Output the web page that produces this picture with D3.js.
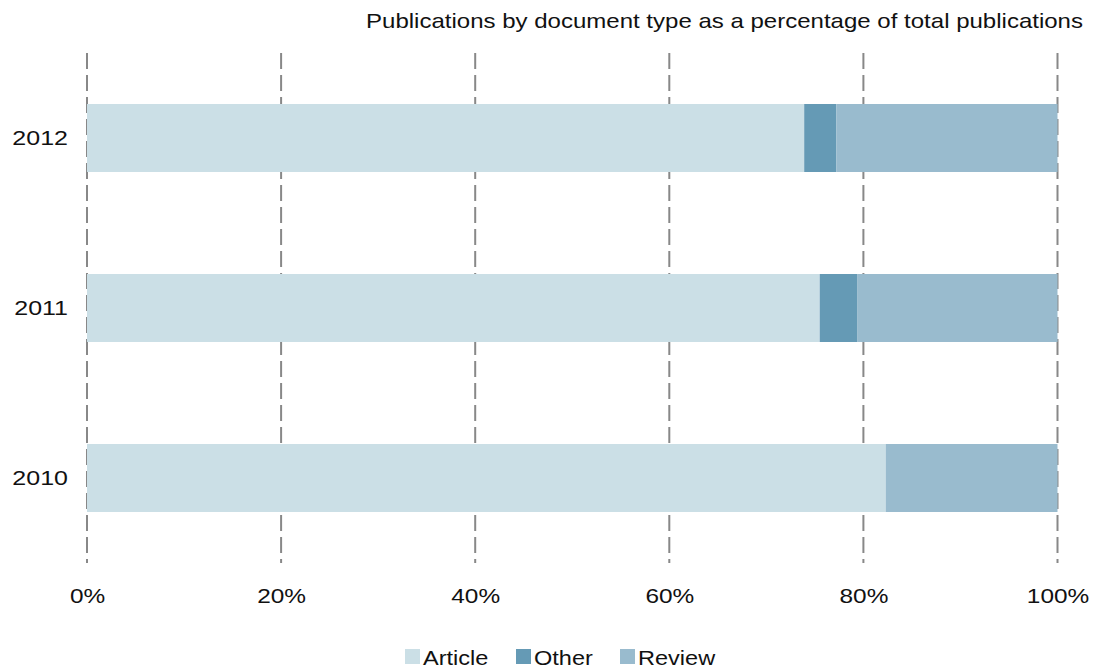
<!DOCTYPE html>
<html>
<head>
<meta charset="utf-8">
<script src="https://cdn.jsdelivr.net/npm/d3@7"></script>
<style>
  body { margin: 0; background: #fff; }
  text { font-family: "Liberation Sans", Arial, sans-serif; fill: #111; }
</style>
</head>
<body>
<div id="grafica"></div>
<script>
// datos
var years = ["2012", "2011", "2010"];
var types = ["Article", "Other", "Review"];
var article = [73.9, 75.5, 82.3];
var other = [3.3, 3.9, 0];
var review = [22.8, 20.6, 17.7];
var ticks = [0, 20, 40, 60, 80, 100];
var colores = ["#cbdfe6", "#659ab5", "#99bbce"];
var titulo = "Publications by document type as a percentage of total publications";

var ancho = 1094, alto = 670;

var svg = d3.select("#grafica")
  .append("svg")
  .attr("width", ancho)
  .attr("height", alto);

// estirar texto a lo ancho (el original tiene letras mas anchas)
function estirar(sel, f) {
  sel.each(function() {
    var w = this.getComputedTextLength();
    d3.select(this).attr("textLength", w * f).attr("lengthAdjust", "spacingAndGlyphs");
  });
}

var x = d3.scaleLinear().domain([0, 100]).range([87, 1057.5]);
var y = d3.scaleBand().domain(years).range([53, 563])
  .paddingInner(0.6).paddingOuter(0.3);

// lineas de grilla punteadas
svg.append("g").selectAll("line")
  .data(ticks)
  .join("line")
  .attr("x1", d => x(d)).attr("x2", d => x(d))
  .attr("y1", 53).attr("y2", 563)
  .attr("stroke", "#888")
  .attr("stroke-width", 2)
  .attr("stroke-dasharray", "16,6");

// barras apiladas
var filas = years.map((yr, i) => ({ year: yr, Article: article[i], Other: other[i], Review: review[i] }));
var pila = d3.stack().keys(types)(filas);

svg.append("g").selectAll("g")
  .data(pila)
  .join("g")
  .attr("fill", (d, i) => colores[i])
  .selectAll("rect")
  .data(d => d)
  .join("rect")
  .attr("x", d => x(d[0]))
  .attr("y", d => y(d.data.year))
  .attr("width", d => x(d[1]) - x(d[0]))
  .attr("height", y.bandwidth());

// eje x
var ejeX = svg.append("g")
  .attr("transform", "translate(0,603)")
  .call(d3.axisBottom(x).tickValues(ticks).tickFormat(d => d + "%").tickSize(0).tickPadding(0));
ejeX.select(".domain").remove();
ejeX.selectAll("text")
  .attr("dy", 0)
  .style("font-size", "20.5px")
  .style("font-family", "Liberation Sans, Arial, sans-serif")
  .attr("fill", "#111")
  .call(estirar, 1.19);

// eje y
var ejeY = svg.append("g")
  .attr("transform", "translate(68,0)")
  .call(d3.axisLeft(y).tickSize(0).tickPadding(0));
ejeY.select(".domain").remove();
ejeY.selectAll("text")
  .attr("x", 0)
  .attr("dy", "0.36em")
  .style("font-size", "20.5px")
  .style("font-family", "Liberation Sans, Arial, sans-serif")
  .attr("fill", "#111")
  .call(estirar, 1.22);

// titulo
svg.append("text")
  .attr("x", 1083)
  .attr("y", 28)
  .attr("text-anchor", "end")
  .style("font-size", "21px")
  .attr("textLength", 717)
  .attr("lengthAdjust", "spacingAndGlyphs")
  .text(titulo);

// leyenda
var leyX = [405, 516, 620];
var ley = svg.append("g").selectAll("g")
  .data(types)
  .join("g")
  .attr("transform", (d, i) => "translate(" + leyX[i] + ",649)");
ley.append("rect")
  .attr("width", 15).attr("height", 15)
  .attr("fill", (d, i) => colores[i]);
ley.append("text")
  .attr("x", 18)
  .attr("y", 16)
  .style("font-size", "21px")
  .text(d => d)
  .call(estirar, 1.12);
</script>
</body>
</html>
